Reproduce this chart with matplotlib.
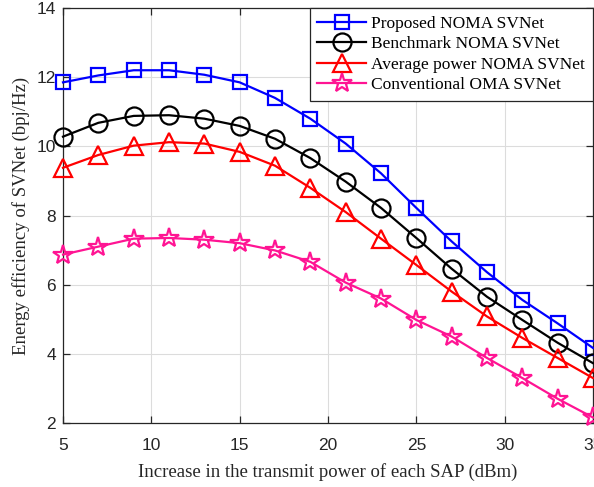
import numpy as np
import matplotlib.pyplot as plt

# ---------------------------------------------------------------------------
# Data
# ---------------------------------------------------------------------------

POWER = [5, 7, 9, 11, 13, 15, 17, 19, 21, 23, 25, 27, 29, 31, 33, 35]

PROPOSED = [11.85, 12.05, 12.2, 12.2, 12.07, 11.85, 11.4, 10.8,
            10.08, 9.22, 8.22, 7.25, 6.36, 5.56, 4.88, 4.17]
BENCHMARK = [10.28, 10.68, 10.88, 10.9, 10.8, 10.59, 10.22, 9.66,
             8.98, 8.22, 7.35, 6.46, 5.65, 4.98, 4.32, 3.73]
AVERAGE = [9.38, 9.75, 10.02, 10.12, 10.08, 9.84, 9.44, 8.8,
           8.1, 7.33, 6.57, 5.8, 5.08, 4.46, 3.88, 3.3]
OMA = [6.87, 7.1, 7.33, 7.35, 7.3, 7.2, 6.99, 6.66,
       6.06, 5.6, 4.98, 4.5, 3.88, 3.3, 2.7, 2.16]

LABELS = ["Proposed NOMA SVNet", "Benchmark NOMA SVNet",
          "Average power NOMA SVNet", "Conventional OMA SVNet"]

# ---------------------------------------------------------------------------
# Style
# ---------------------------------------------------------------------------

SERIF = ["Liberation Serif", "DejaVu Serif"]
SANS = ["Liberation Sans", "DejaVu Sans"]

STYLES = [
    dict(color="#0000FF", marker="s", ms=10.5),
    dict(color="#000000", marker="o", ms=13),
    dict(color="#FF0000", marker="^", ms=13.5),
    dict(color="#FF1493", marker="*", ms=15),
]

fig = plt.figure(figsize=(5.94, 4.87), dpi=100)
ax = fig.add_axes([63 / 594, 64 / 487, 530 / 594, 415 / 487])

for ys, label, st in zip([PROPOSED, BENCHMARK, AVERAGE, OMA], LABELS, STYLES):
    ax.plot(POWER, ys, color=st["color"], lw=1.6, marker=st["marker"],
            ms=st["ms"], mfc="none", mec=st["color"], mew=1.6,
            label=label, clip_on=False, zorder=3)

ax.set_xlim(5, 35)
ax.set_ylim(2, 14)
ax.set_xticks(np.arange(5, 36, 5))
ax.set_yticks(np.arange(2, 15, 2))
ax.grid(True, color="#DCDCDC", lw=0.8)
ax.set_axisbelow(True)

for s in ax.spines.values():
    s.set_color("#262626")
    s.set_linewidth(0.9)
ax.tick_params(direction="in", top=True, right=True, length=5,
               width=0.9, color="#262626", labelcolor="#262626")
ax.tick_params(axis="x", pad=11)
ax.tick_params(axis="y", pad=5)
for lab in ax.get_xticklabels() + ax.get_yticklabels():
    lab.set_family(SANS)
    lab.set_fontsize(12.5)

ax.set_xlabel("Increase in the transmit power of each SAP (dBm)",
              family=SERIF, fontsize=13.5, color="#262626", labelpad=7)
ax.set_ylabel("Energy efficiency of SVNet (bpj/Hz)",
              family=SERIF, fontsize=13.5, color="#262626", labelpad=5)

leg = ax.legend(loc="upper right", bbox_to_anchor=(1.0, 1.0),
                prop={"family": SERIF, "size": 12.5},
                handlelength=2.8, handletextpad=0.3, labelspacing=0.25,
                borderpad=0.45, borderaxespad=0.0, fancybox=False,
                framealpha=1.0, edgecolor="#262626")
leg.get_frame().set_linewidth(0.9)

fig.savefig("out.png", dpi=100)
